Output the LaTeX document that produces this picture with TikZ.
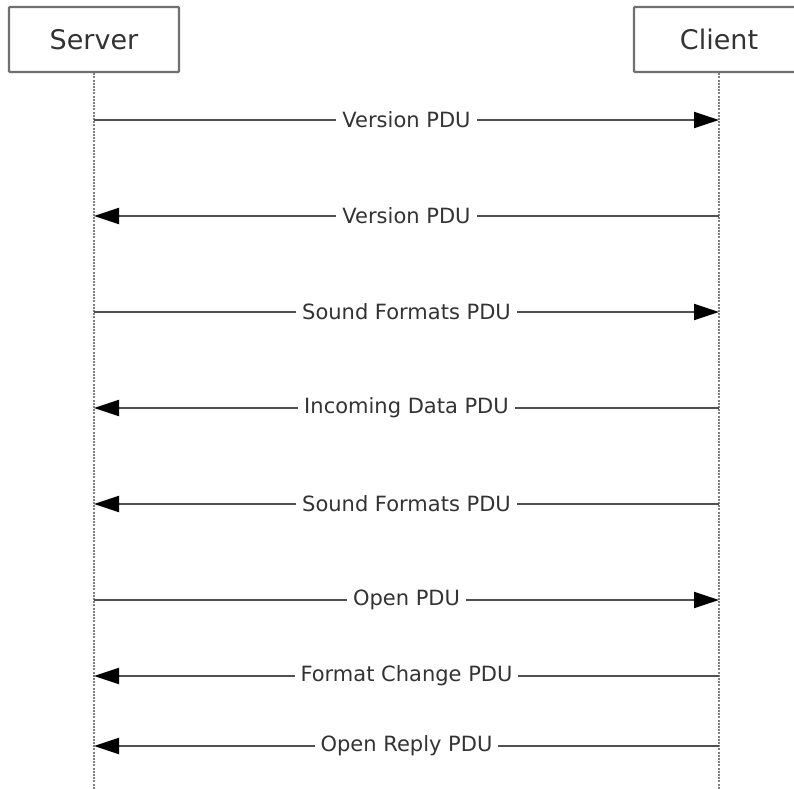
\documentclass[tikz,border=0pt]{standalone}
\usepackage{fontspec}
\setmainfont{DejaVu Sans}
\usetikzlibrary{arrows.meta}
\definecolor{boxline}{HTML}{707070}
\definecolor{txt}{HTML}{333333}
\definecolor{msgline}{HTML}{505050}
\definecolor{lifeline}{HTML}{808080}
\begin{document}
\begin{tikzpicture}[x=1pt,y=-1pt,
  actor/.style={draw=boxline,line width=2.4pt,rounded corners=1pt,minimum width=170pt,minimum height=65pt,inner sep=0pt,text=txt,font=\fontsize{27}{29}\selectfont},
  life/.style={draw=lifeline,line width=2.2pt,dash pattern=on 2pt off 1.2pt},
  msg/.style={draw=msgline,line width=2.2pt,-{Triangle[length=25pt,width=16pt,fill=black,color=black]}},
  lbl/.style={fill=white,text=txt,inner xsep=6pt,inner ysep=2pt,font=\fontsize{21}{23}\selectfont}]
\clip (0,0) rectangle (794,788);
\fill[white] (0,0) rectangle (794,788);
\node[actor] (server) at (94,39.5) {Server};
\node[actor] (client) at (719,39.5) {Client};
\coordinate (sEnd) at (94,790);
\coordinate (cEnd) at (719,790);
\draw[life] (server.south) -- (sEnd);
\draw[life] (client.south) -- (cEnd);
\foreach \i/\y in {1/120,2/216,3/312,4/408,5/504,6/600,7/676,8/746}{
  \coordinate (s\i) at (94,\y);
  \coordinate (c\i) at (719,\y);
}
\draw[msg] (s1) -- node[lbl] {Version PDU} (c1);
\draw[msg] (c2) -- node[lbl] {Version PDU} (s2);
\draw[msg] (s3) -- node[lbl] {Sound Formats PDU} (c3);
\draw[msg] (c4) -- node[lbl] {Incoming Data PDU} (s4);
\draw[msg] (c5) -- node[lbl] {Sound Formats PDU} (s5);
\draw[msg] (s6) -- node[lbl] {Open PDU} (c6);
\draw[msg] (c7) -- node[lbl] {Format Change PDU} (s7);
\draw[msg] (c8) -- node[lbl] {Open Reply PDU} (s8);
\end{tikzpicture}
\end{document}
